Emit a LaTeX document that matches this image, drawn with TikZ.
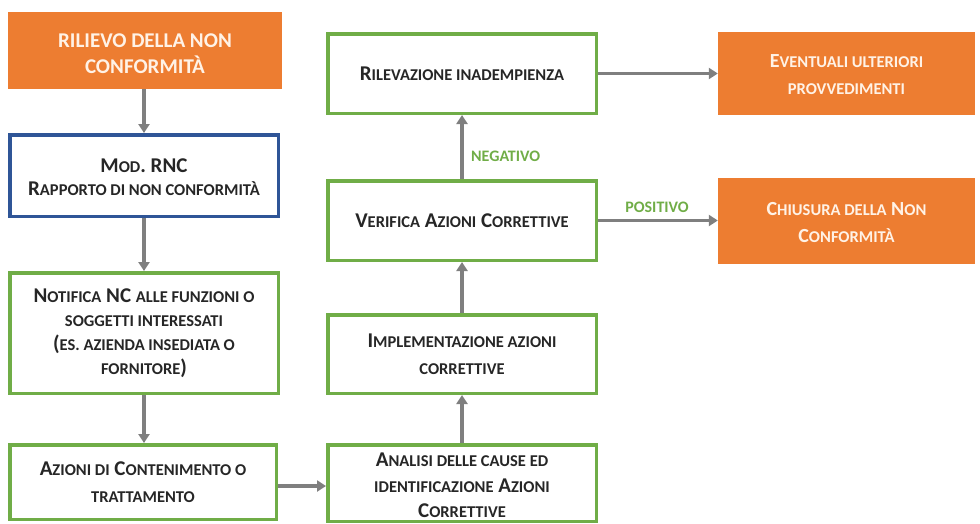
\documentclass[tikz,border=0pt]{standalone}
\usepackage{fontspec}
\setmainfont{Carlito}
\usetikzlibrary{arrows.meta}
\definecolor{orng}{HTML}{ED7D31}
\definecolor{grn}{HTML}{70AD47}
\definecolor{blu}{HTML}{2F5597}
\definecolor{arrc}{HTML}{7F7F7F}
\definecolor{txtc}{HTML}{262626}
\definecolor{otxt}{HTML}{FFF2E6}
\newcommand\s[1]{{\fontsize{16.5}{\baselineskip}\selectfont #1}}
\newcommand\dn[2]{\raisebox{-#1}[\height][\depth]{\begin{tabular}{@{}c@{}}#2\end{tabular}}}
\begin{document}
\begin{tikzpicture}[x=1pt,y=-1pt,
  gbox/.style={draw=grn, line width=3.5pt, fill=white, text=txtc, align=center, inner sep=0pt},
  bbox/.style={gbox, draw=blu},
  obox/.style={fill=orng, text=otxt, align=center, inner sep=0pt},
  flow/.style={draw=arrc, line width=3.5pt, -{Triangle[width=11pt,length=9pt]}},
  lbl/.style={text=grn, inner sep=0pt, font=\bfseries\fontsize{16}{18}\selectfont}]
\useasboundingbox (0,0) rectangle (980,523);
\node[obox, minimum width=274pt, minimum height=77pt, font=\bfseries\fontsize{21}{26}\selectfont] (b1) at (145,50.5) {\dn{5pt}{RILIEVO DELLA NON\\CONFORMITÀ}};
\node[bbox, minimum width=268.5pt, minimum height=81.5pt, font=\bfseries\fontsize{21}{23}\selectfont] (b2) at (144,175.5) {\dn{4pt}{M\s{OD}. RNC\\R\s{APPORTO DI NON CONFORMITÀ}}};
\node[gbox, minimum width=268.5pt, minimum height=120.5pt, font=\bfseries\fontsize{21}{24}\selectfont] (b3) at (144,333) {N\s{OTIFICA} NC \s{ALLE FUNZIONI O}\\\s{SOGGETTI INTERESSATI}\\(\s{ES. AZIENDA INSEDIATA O}\\\s{FORNITORE})};
\node[gbox, minimum width=266.5pt, minimum height=74.5pt, font=\bfseries\fontsize{21}{27}\selectfont] (b4) at (143,482) {A\s{ZIONI DI} C\s{ONTENIMENTO O}\\\s{TRATTAMENTO}};
\node[gbox, minimum width=268.5pt, minimum height=72.5pt, font=\bfseries\fontsize{21}{25.5}\selectfont] (b5) at (462,483) {\dn{4pt}{A\s{NALISI DELLE CAUSE ED}\\\s{IDENTIFICAZIONE} A\s{ZIONI}\\C\s{ORRETTIVE}}};
\node[gbox, minimum width=268.5pt, minimum height=78.5pt, font=\bfseries\fontsize{21}{27}\selectfont] (b6) at (462,354) {I\s{MPLEMENTAZIONE AZIONI}\\\s{CORRETTIVE}};
\node[gbox, minimum width=268.5pt, minimum height=79.5pt, font=\bfseries\fontsize{21}{27}\selectfont] (b7) at (462,220.5) {V\s{ERIFICA} A\s{ZIONI} C\s{ORRETTIVE}};
\node[gbox, minimum width=268.5pt, minimum height=79.5pt, font=\bfseries\fontsize{21}{27}\selectfont] (b8) at (462,73.5) {R\s{ILEVAZIONE INADEMPIENZA}};
\node[obox, minimum width=257pt, minimum height=83pt, font=\bfseries\fontsize{20}{27}\selectfont] (b9) at (846.5,73.5) {\dn{2pt}{E\s{VENTUALI ULTERIORI}\\\s{PROVVEDIMENTI}}};
\node[obox, minimum width=257pt, minimum height=86pt, font=\bfseries\fontsize{20}{27}\selectfont] (b10) at (846.5,221) {\dn{3pt}{C\s{HIUSURA DELLA} N\s{ON}\\C\s{ONFORMITÀ}}};
\draw[flow] (b2.north |- b1.south) -- (b2.north);
\draw[flow] (b2.south) -- (b3.north);
\draw[flow] (b3.south) -- (b3.south |- b4.north);
\draw[flow] ([yshift=-4pt]b4.east) -- ([yshift=-4pt]b4.east -| b5.west);
\draw[flow] (b5.north) -- (b6.south);
\draw[flow] (b6.north) -- (b7.south);
\draw[flow] (b7.north) -- (b8.south);
\draw[flow] (b8.east) -- (b8.east -| b9.west);
\draw[flow] (b7.east) -- (b7.east -| b10.west);
\node[lbl, anchor=west] (neg) at (471,156) {NEGATIVO};
\node[lbl] (pos) at (657,207) {POSITIVO};
\end{tikzpicture}
\end{document}
